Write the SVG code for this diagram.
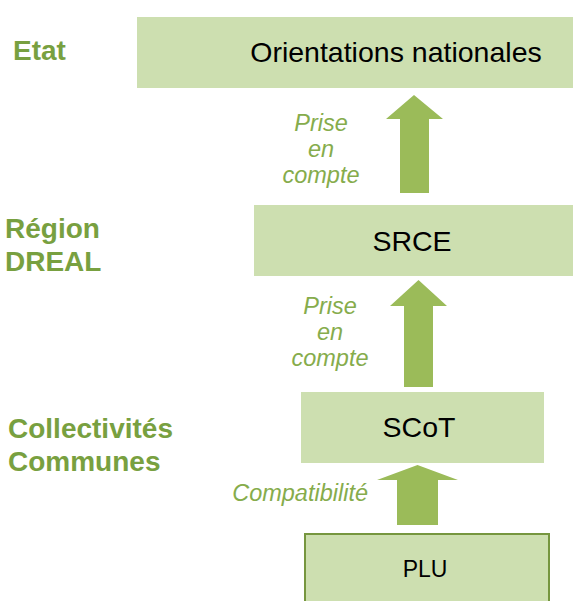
<svg xmlns="http://www.w3.org/2000/svg" width="573" height="601" viewBox="0 0 573 601">
  <style>
    .box { fill: #cddfb0; }
    .plu { fill: #cddfb0; stroke: #76963f; stroke-width: 2; }
    .main { font-family: "Liberation Sans", Arial, sans-serif; font-size: 28.5px; fill: #000; text-anchor: middle; }
    .plu-t { font-family: "Liberation Sans", Arial, sans-serif; font-size: 23px; fill: #000; text-anchor: middle; }
    .level { font-family: "Liberation Sans", Arial, sans-serif; font-size: 28px; font-weight: bold; fill: #78a040; }
    .rel { font-family: "Liberation Sans", Arial, sans-serif; font-size: 23.5px; font-style: italic; fill: #86ac4c; text-anchor: middle; }
    .arrow { fill: #9bbb59; }
  </style>
  <rect width="573" height="601" fill="#ffffff"/>

  <g id="level-etat">
    <text class="level" x="13" y="60">Etat</text>
  </g>
  <g id="level-region">
    <text class="level" x="5" y="238">Région</text>
    <text class="level" x="5" y="271">DREAL</text>
  </g>
  <g id="level-collectivites">
    <text class="level" x="8" y="438">Collectivités</text>
    <text class="level" x="8" y="471">Communes</text>
  </g>

  <g id="node-orientations">
    <rect class="box" x="137" y="17" width="436" height="71"/>
    <text class="main" x="396" y="62">Orientations nationales</text>
  </g>
  <g id="node-srce">
    <rect class="box" x="254" y="205" width="319" height="71"/>
    <text class="main" x="412" y="251">SRCE</text>
  </g>
  <g id="node-scot">
    <rect class="box" x="301" y="392" width="243" height="71"/>
    <text class="main" x="419" y="437">SCoT</text>
  </g>
  <g id="node-plu">
    <rect class="plu" x="305" y="534" width="244" height="75"/>
    <text class="plu-t" x="425" y="577">PLU</text>
  </g>

  <g id="connectors">
    <polygon class="arrow" points="414,95 443,119 429,119 429,193 400,193 400,119 386,119"/>
    <polygon class="arrow" points="418.5,280 447,306 433,306 433,387 404,387 404,306 390,306"/>
    <polygon class="arrow" points="417.5,465 458,480 438,480 438,525 397,525 397,480 377,480"/>
    <text class="rel" x="321" y="131">Prise</text>
    <text class="rel" x="321" y="157">en</text>
    <text class="rel" x="321" y="183">compte</text>
    <text class="rel" x="330" y="314">Prise</text>
    <text class="rel" x="330" y="340">en</text>
    <text class="rel" x="330" y="366">compte</text>
    <text class="rel" x="368" y="501" style="text-anchor:end">Compatibilité</text>
  </g>
</svg>
